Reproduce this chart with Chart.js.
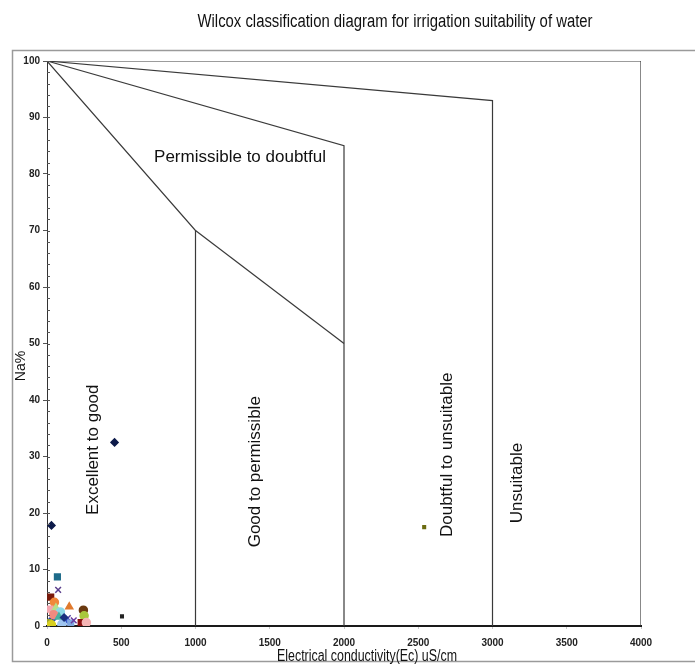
<!DOCTYPE html>
<html>
<head>
<meta charset="utf-8">
<title>Wilcox diagram</title>
<script src="https://cdn.jsdelivr.net/npm/chart.js@4.4.1/dist/chart.umd.min.js"></script>
<style>
  body { margin: 0; background: #fff; }
  #wrap { width: 695px; height: 666px; }
</style>
</head>
<body>
<div id="wrap"><canvas id="wilcoxChart" width="695" height="666"></canvas></div>
<script>
// Axis ticks
const ecTicks = [0, 500, 1000, 1500, 2000, 2500, 3000, 3500, 4000];
const naTicks = [0, 10, 20, 30, 40, 50, 60, 70, 80, 90, 100];

// Class boundary lines (EC, Na%)
const boundaryExcellentEc = [0, 1000, 1000];
const boundaryExcellentNa = [100, 70, 0];
const boundaryGoodEc = [0, 2000, 2000];
const boundaryGoodNa = [100, 85, 0];
const boundaryInnerEc = [1000, 2000];
const boundaryInnerNa = [70, 50];
const boundaryDoubtfulEc = [0, 3000, 3000];
const boundaryDoubtfulNa = [100, 93, 0];
const boundaryFrameEc = [0, 4000, 4000];
const boundaryFrameNa = [100, 100, 0];

// Water samples
const sampleEc = [30, 455, 505, 2540, 70, 75, 25, 50, 20, 150, 245, 250, 230, 265, 60, 90, 35, 140, 125, 15, 10, 100, 160, 45, 80, 30, 115, 180];
const sampleNa = [17.8, 32.5, 1.7, 17.5, 8.7, 6.4, 5.1, 4.2, 3.0, 3.4, 2.8, 1.8, 0.6, 0.6, 3.2, 2.5, 1.2, 1.4, 0.9, 0.3, 0.6, 0.3, 0.5, 2.0, 1.6, 0.2, 1.5, 1.0];

// Marker styles per sample
const sampleMarker = ["rectRot", "rectRot", "rect", "rect", "rect", "crossRot", "rect", "circle", "rect", "triangle",
  "circle", "circle", "rect", "circle", "triangle", "circle", "rectRot", "crossRot", "star", "triangle",
  "rect", "circle", "rect", "circle", "triangle", "circle", "rectRot", "crossRot"];
const sampleColor = ["#0d1a4a", "#0d1a4a", "#222222", "#6b6b10", "#1e6b8a", "#5a3e8c", "#7a1a0a", "#f0883a", "#f4a6b0", "#e07a2e",
  "#6b3a10", "#a8c83c", "#8b1010", "#f5b5b5", "#b5e08a", "#8ed8e8", "#2a4aa8", "#5040a0", "#3355cc", "#7ab030",
  "#9aa030", "#9ec5f0", "#7fa7e0", "#f08a80", "#46b0a0", "#d8d020", "#1a3080", "#6a3aa0"];
const sampleRadius = [3.5, 3.5, 1.8, 1.8, 4, 4, 4, 4, 4, 4, 4, 4, 4, 4, 4, 4, 3.5, 4, 4, 4, 4, 4, 4, 4, 4, 4, 3.5, 4];

// Region labels
const regionLabels = [
  { text: "Permissible to doubtful", ec: 1300, na: 83, rotate: false },
  { text: "Excellent to good", ec: 310, na: 31.2, rotate: true },
  { text: "Good to permissible", ec: 1400, na: 27.3, rotate: true },
  { text: "Doubtful to unsuitable", ec: 2694, na: 30.3, rotate: true },
  { text: "Unsuitable", ec: 3165, na: 25.3, rotate: true }
];

function toPoints(xs, ys) {
  return xs.map((x, i) => ({ x: x, y: ys[i] }));
}

function boundary(xs, ys) {
  return {
    type: "line",
    data: toPoints(xs, ys),
    borderColor: "#3a3a3a",
    borderWidth: 1.2,
    pointRadius: 0,
    showLine: true,
    tension: 0,
    fill: false,
    order: 10
  };
}

// narrow text (squeezed to a given width, like Arial Narrow)
function narrowText(ctx, text, x, y, fontSize, width) {
  ctx.save();
  ctx.font = fontSize + "px 'Liberation Sans', Arial, sans-serif";
  const w = ctx.measureText(text).width;
  ctx.translate(x, y);
  ctx.scale(width / w, 1);
  ctx.fillText(text, 0, 0);
  ctx.restore();
}

// Frame, title, axis titles, minor ticks and region labels
const decorPlugin = {
  id: "decor",
  beforeDraw(chart) {
    const ctx = chart.ctx;
    ctx.save();
    ctx.strokeStyle = "#9a9a9a";
    ctx.lineWidth = 1.5;
    ctx.strokeRect(12.5, 50.5, 700, 611);
    ctx.restore();
  },
  afterDraw(chart) {
    const ctx = chart.ctx;
    const xs = chart.scales.x;
    const ys = chart.scales.y;
    const area = chart.chartArea;
    ctx.save();

    // minor ticks on y axis
    ctx.strokeStyle = "#555";
    ctx.lineWidth = 1;
    for (let v = 0; v <= 100; v += 2) {
      const py = Math.round(ys.getPixelForValue(v)) + 0.5;
      ctx.beginPath();
      ctx.moveTo(area.left, py);
      ctx.lineTo(area.left + 3, py);
      ctx.stroke();
    }

    ctx.fillStyle = "#111";
    ctx.textAlign = "center";
    ctx.textBaseline = "middle";

    // chart title
    narrowText(ctx, "Wilcox classification diagram for irrigation suitability of water", 395, 22, 18, 395);

    // x axis title
    narrowText(ctx, "Electrical conductivity(Ec) uS/cm", 367, 657, 16, 180);

    // y axis title
    ctx.save();
    ctx.translate(21, 366);
    ctx.rotate(-Math.PI / 2);
    ctx.font = "14px 'Liberation Sans', Arial, sans-serif";
    ctx.fillText("Na%", 0, 0);
    ctx.restore();

    // region labels
    ctx.font = "17px 'Liberation Sans', Arial, sans-serif";
    regionLabels.forEach(l => {
      const px = xs.getPixelForValue(l.ec);
      const py = ys.getPixelForValue(l.na);
      ctx.save();
      ctx.translate(px, py);
      if (l.rotate) ctx.rotate(-Math.PI / 2);
      ctx.fillText(l.text, 0, 0);
      ctx.restore();
    });
    ctx.restore();
  }
};

const tickFont = { family: "'Liberation Sans', Arial, sans-serif", size: 10, weight: "bold" };

const ctx = document.getElementById("wilcoxChart").getContext("2d");

new Chart(ctx, {
  type: "scatter",
  data: {
    datasets: [
      {
        label: "Samples",
        data: toPoints(sampleEc, sampleNa),
        pointStyle: sampleMarker,
        backgroundColor: sampleColor,
        borderColor: sampleColor,
        borderWidth: 1.5,
        pointRadius: sampleRadius,
        order: 0
      },
      boundary(boundaryExcellentEc, boundaryExcellentNa),
      boundary(boundaryGoodEc, boundaryGoodNa),
      boundary(boundaryInnerEc, boundaryInnerNa),
      boundary(boundaryDoubtfulEc, boundaryDoubtfulNa),
      boundary(boundaryFrameEc, boundaryFrameNa)
    ]
  },
  options: {
    responsive: false,
    animation: false,
    layout: { padding: { top: 61, right: 54, left: 0, bottom: 0 } },
    plugins: {
      legend: { display: false },
      tooltip: { enabled: false }
    },
    scales: {
      x: {
        type: "linear",
        min: ecTicks[0],
        max: ecTicks[ecTicks.length - 1],
        afterFit(scale) { scale.height = 40; },
        afterBuildTicks(scale) { scale.ticks = ecTicks.map(v => ({ value: v })); },
        grid: { drawOnChartArea: false, drawTicks: true, tickLength: 3, color: "#c8c8c8" },
        border: { color: "#1a1a1a", width: 2 },
        ticks: {
          padding: 8,
          color: "#222",
          font: tickFont,
          callback: v => String(v)
        }
      },
      y: {
        type: "linear",
        min: naTicks[0],
        max: naTicks[naTicks.length - 1],
        afterFit(scale) { scale.width = 47; },
        afterBuildTicks(scale) { scale.ticks = naTicks.map(v => ({ value: v })); },
        grid: { drawOnChartArea: false, drawTicks: true, tickLength: 4, color: "#555" },
        border: { color: "#333", width: 1 },
        ticks: {
          padding: 3,
          color: "#222",
          font: tickFont,
          callback: v => String(v)
        }
      }
    }
  },
  plugins: [decorPlugin]
});
</script>
</body>
</html>
